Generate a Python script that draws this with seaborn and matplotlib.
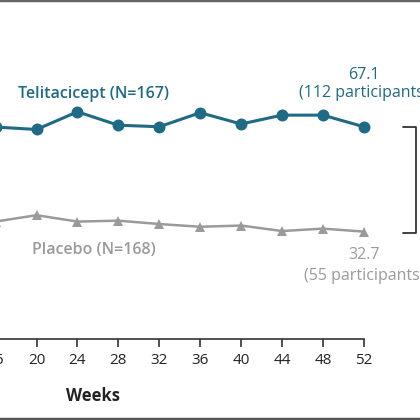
import matplotlib
matplotlib.use("Agg")
import matplotlib.pyplot as plt
import seaborn as sns
import pandas as pd
from matplotlib.lines import Line2D

weeks = [16, 20, 24, 28, 32, 36, 40, 44, 48, 52]
telitacicept = [67.0, 66.2, 72.0, 67.6, 67.1, 71.7, 68.0, 70.9, 70.9, 67.1]
placebo = [36.0, 38.1, 36.0, 36.3, 35.2, 34.3, 34.7, 32.9, 33.7, 32.7]
tick_weeks = list(range(0, 53, 4))

teal = "#1f6a84"
grey = "#9a9a9a"

sns.set_style("white")
plt.rcParams["font.family"] = ["Open Sans", "DejaVu Sans"]

df = pd.DataFrame({"Weeks": weeks * 2,
                   "Pct": telitacicept + placebo,
                   "Group": ["Telitacicept"] * len(weeks) + ["Placebo"] * len(weeks)})

fig = plt.figure(figsize=(4.2, 4.2), dpi=100)
# axes wider than the figure: the left part of the chart is cropped away
px_week = 10.23
left_px = 36.5 - 20 * px_week
ax = fig.add_axes([left_px / 420, 81 / 420, 52 * px_week / 420, 312.6 / 420])

sns.lineplot(data=df, x="Weeks", y="Pct", hue="Group", style="Group",
             palette={"Telitacicept": teal, "Placebo": grey},
             markers={"Telitacicept": "o", "Placebo": "^"},
             dashes=False, legend=False, ax=ax, clip_on=False)
for ln, ms, lw in zip(ax.lines, [8.6, 7.6], [2.2, 1.8]):
    ln.set_markersize(ms)
    ln.set_linewidth(lw)
    ln.set_markeredgewidth(0)
    ln.set_clip_on(False)

ax.set_xlim(0, 52)
ax.set_ylim(-2.5, 100)
ax.set_xticks(tick_weeks)
ax.set_yticks([])
for s in ["top", "right", "left"]:
    ax.spines[s].set_visible(False)
ax.spines["bottom"].set_color("#333333")
ax.spines["bottom"].set_linewidth(1.2)
ax.tick_params(axis="x", direction="out", length=6, width=1.2, color="#333333",
               labelsize=11, labelcolor="#222222", pad=4, bottom=True)
ax.set_xlabel("Weeks", fontsize=12, fontweight="bold", color="#222222")
ax.xaxis.set_label_coords(0.49, -0.155)
ax.set_ylabel("")

# series labels
ax.text(25.6, 77.9, "Telitacicept (N=167)", color=teal, fontsize=11.5,
        fontweight="semibold", ha="center", va="center")
ax.text(25.6, 26.7, "Placebo (N=168)", color=grey, fontsize=11.5,
        fontweight="semibold", ha="center", va="center")
ax.text(52, 84.1, f"{telitacicept[-1]:.1f}", color=teal, fontsize=11.5,
        ha="center", va="center", clip_on=False)
ax.text(52, 78.0, "(112 participants)", color=teal, fontsize=11.5,
        ha="center", va="center", clip_on=False)
ax.text(52, 25.1, f"{placebo[-1]:.1f}", color=grey, fontsize=11.5,
        ha="center", va="center", clip_on=False)
ax.text(52, 18.2, "(55 participants)", color=grey, fontsize=11.5,
        ha="center", va="center", clip_on=False)

# bracket comparing the week-52 values
bx0, bx1 = 55.8, 57.1
ax.plot([bx0, bx1, bx1, bx0], [telitacicept[-1], telitacicept[-1], placebo[-1] - 0.3, placebo[-1] - 0.3],
        color="#333333", lw=1.3, clip_on=False)

# frame lines at top and bottom
fig.add_artist(Line2D([0, 1], [0.999, 0.999], color="#666666", lw=2.5))
fig.add_artist(Line2D([0, 1], [0.003, 0.003], color="#555555", lw=2.5))

fig.savefig("out.png", dpi=100)
